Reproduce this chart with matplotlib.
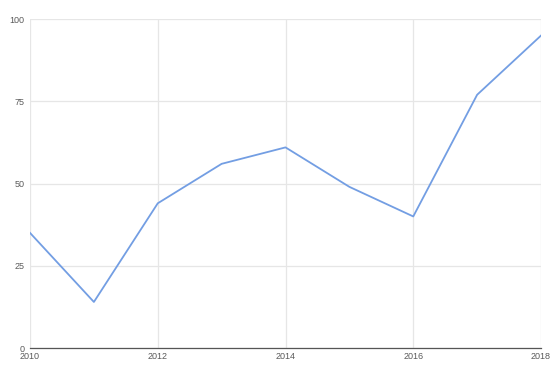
import numpy as np
import matplotlib.pyplot as plt

years = [2010, 2011, 2012, 2013, 2014, 2015, 2016, 2017, 2018]
values = [35, 14, 44, 56, 61, 49, 40, 77, 95]
x_ticks = [2010, 2012, 2014, 2016, 2018]
y_ticks = [0, 25, 50, 75, 100]

plt.rcParams['font.family'] = ['Liberation Sans', 'DejaVu Sans']

fig = plt.figure(figsize=(5.59, 3.75), dpi=100)
ax = fig.add_axes([0.0537, 0.072, 0.9141, 0.877])

ax.plot(years, values, color='#739ee3', linewidth=1.3, zorder=3)

ax.set_xlim(2010, 2018)
ax.set_ylim(0, 100)
ax.set_xticks(x_ticks)
ax.set_yticks(y_ticks)
ax.grid(True, color='#e6e6e6', linewidth=0.9, zorder=0)

for s in ['top', 'right', 'left']:
    ax.spines[s].set_visible(False)
ax.spines['bottom'].set_color('#555555')
ax.spines['bottom'].set_linewidth(0.9)
ax.spines['bottom'].set_zorder(4)

ax.tick_params(axis='both', length=0, labelsize=6.5, labelcolor='#5a5a5a')
ax.tick_params(axis='x', pad=3)
ax.tick_params(axis='y', pad=4)

fig.savefig('out.png', dpi=100)
